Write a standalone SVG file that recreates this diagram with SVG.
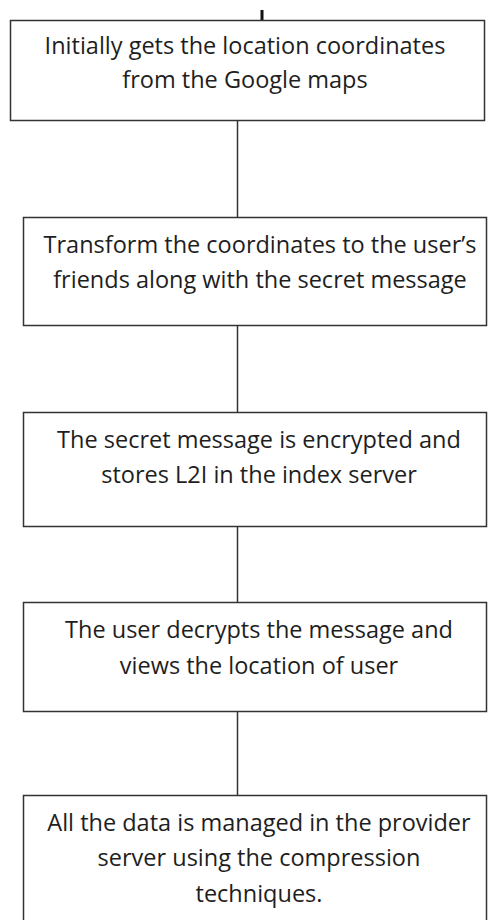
<svg xmlns="http://www.w3.org/2000/svg" width="488" height="920" viewBox="0 0 488 920">
<style>
.box{fill:#fff;stroke:#333;stroke-width:1.5}
.conn{stroke:#333;stroke-width:1.5;fill:none}
text{font-family:"Open Sans","Noto Sans",sans-serif;font-size:23.5px;fill:#1e1e1e;text-anchor:middle}
</style>
<rect width="488" height="920" fill="#fff"/>
<g id="connectors">
<line class="conn" x1="262" y1="10" x2="262" y2="20" style="stroke-width:3;stroke:#111"/>
<line class="conn" x1="237.5" y1="120" x2="237.5" y2="217"/>
<line class="conn" x1="237.5" y1="325" x2="237.5" y2="412"/>
<line class="conn" x1="237.5" y1="526" x2="237.5" y2="602"/>
<line class="conn" x1="237.5" y1="711" x2="237.5" y2="795"/>
</g>
<g id="node1">
<rect class="box" x="10.5" y="20.5" width="474" height="100"/>
<text x="245" y="54">Initially gets the location coordinates</text>
<text x="245" y="88">from the Google maps</text>
</g>
<g id="node2">
<rect class="box" x="23.5" y="217.5" width="463" height="108"/>
<text x="260" y="253">Transform the coordinates to the user’s</text>
<text x="260" y="288">friends along with the secret message</text>
</g>
<g id="node3">
<rect class="box" x="23.5" y="412.5" width="463" height="114"/>
<text x="259" y="448">The secret message is encrypted and</text>
<text x="259" y="483">stores L2I in the index server</text>
</g>
<g id="node4">
<rect class="box" x="23.5" y="602.5" width="463" height="109"/>
<text x="259" y="638">The user decrypts the message and</text>
<text x="259" y="674">views the location of user</text>
</g>
<g id="node5">
<rect class="box" x="23.5" y="795.5" width="463" height="140"/>
<text x="259" y="831">All the data is managed in the provider</text>
<text x="259" y="866">server using the compression</text>
<text x="259" y="902">techniques.</text>
</g>
</svg>
